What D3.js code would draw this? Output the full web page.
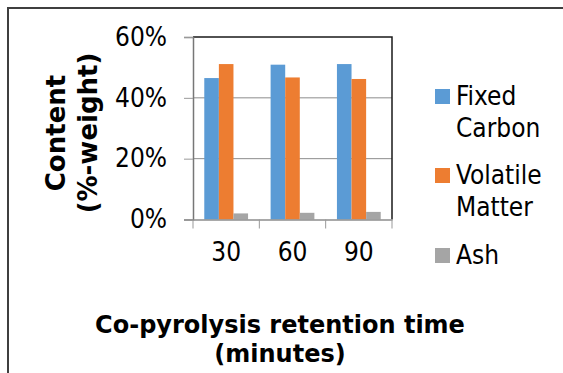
<!DOCTYPE html>
<html>
<head>
<meta charset="utf-8">
<script src="https://cdn.jsdelivr.net/npm/d3@7.9.0/dist/d3.min.js"></script>
<style>
  html, body { margin: 0; padding: 0; background: #fff; }
  svg { display: block; }
  .tick-label, .legend-label { font-family: "DejaVu Sans Condensed", "DejaVu Sans", sans-serif; font-stretch: condensed; font-size: 26px; fill: #000; }
  .axis-title { font-family: "DejaVu Sans", sans-serif; font-weight: bold; font-size: 24px; fill: #000; }
  .y-title { font-size: 26px; }
</style>
</head>
<body>
<div id="chart"></div>
<script>
const categories = ['30', '60', '90'];
const seriesNames = ['Fixed Carbon', 'Volatile Matter', 'Ash'];
const legendLines = [['Fixed', 'Carbon'], ['Volatile', 'Matter'], ['Ash']];
const fixedCarbon = [0.465, 0.509, 0.511];
const volatileMatter = [0.511, 0.467, 0.462];
const ash = [0.020, 0.022, 0.025];
const yTicks = [0, 0.2, 0.4, 0.6];
const colors = ['#5B9BD5', '#ED7D31', '#A5A5A5'];

const width = 563;
const height = 373;
const plot = { left: 193, right: 392, top: 37, bottom: 219.5 };

const svg = d3.select('#chart')
    .append('svg')
    .attr('width', width)
    .attr('height', height);

// Outer frame (runs off the right and bottom edges)
svg.append('rect')
    .attr('x', 8).attr('y', 8)
    .attr('width', width + 20).attr('height', height + 20)
    .attr('fill', 'none')
    .attr('stroke', '#3f3f3f')
    .attr('stroke-width', 2);

const values = [fixedCarbon, volatileMatter, ash];
const data = categories.map((c, i) => ({
    category: c,
    values: seriesNames.map((s, j) => ({ series: j, value: values[j][i] }))
}));

const xScale = d3.scaleBand()
    .domain(categories)
    .range([plot.left, plot.right])
    .paddingInner(0.34)
    .paddingOuter(0.17);

const xInner = d3.scaleBand()
    .domain(d3.range(seriesNames.length))
    .range([0, xScale.bandwidth()]);

const yScale = d3.scaleLinear()
    .domain([0, 0.6])
    .range([plot.bottom, plot.top]);

// Gridlines
svg.append('g')
    .selectAll('line')
    .data(yTicks.filter(d => d > 0 && d < 0.6))
    .join('line')
    .attr('x1', plot.left).attr('x2', plot.right)
    .attr('y1', d => yScale(d)).attr('y2', d => yScale(d))
    .attr('stroke', '#8c8c8c')
    .attr('stroke-width', 1);

// Bars
const groups = svg.append('g')
    .selectAll('g')
    .data(data)
    .join('g')
    .attr('transform', d => `translate(${xScale(d.category)},0)`);

groups.selectAll('rect')
    .data(d => d.values)
    .join('rect')
    .attr('x', d => xInner(d.series))
    .attr('y', d => yScale(d.value))
    .attr('width', xInner.bandwidth())
    .attr('height', d => yScale(0) - yScale(d.value))
    .attr('fill', d => colors[d.series]);

// Top and right border of plot area
svg.append('path')
    .attr('d', `M${plot.left},${plot.top}H${plot.right}V${plot.bottom}`)
    .attr('fill', 'none')
    .attr('stroke', '#1a1a1a')
    .attr('stroke-width', 1.5);

// Y axis
const yAxis = svg.append('g')
    .attr('transform', `translate(${plot.left},0)`)
    .call(d3.axisLeft(yScale).tickValues(yTicks).tickFormat(d3.format('.0%')).tickSize(9).tickPadding(17));
yAxis.select('.domain').attr('stroke', '#777').attr('stroke-width', 1.5);
yAxis.selectAll('.tick line').attr('stroke', '#999');
yAxis.selectAll('.tick text').attr('class', 'tick-label').attr('font-size', null).attr('font-family', null);

// X axis
const xAxis = svg.append('g')
    .attr('transform', `translate(0,${plot.bottom})`)
    .call(d3.axisBottom(xScale).tickSize(0).tickPadding(23));
xAxis.select('.domain').attr('stroke', '#8c8c8c').attr('stroke-width', 1.5);
xAxis.selectAll('.tick text').attr('class', 'tick-label').attr('font-size', null).attr('font-family', null);

// Category separators below the axis
const bounds = categories.map(c => xScale(c) - xScale.step() * xScale.paddingInner() / 2);
bounds.push(plot.right);
bounds[0] = plot.left;
svg.append('g')
    .selectAll('line')
    .data(bounds)
    .join('line')
    .attr('x1', d => d).attr('x2', d => d)
    .attr('y1', plot.bottom).attr('y2', plot.bottom + 9)
    .attr('stroke', '#999');

// Y title
const yTitle = svg.append('text')
    .attr('class', 'axis-title y-title')
    .attr('text-anchor', 'middle')
    .attr('transform', 'translate(65,133) rotate(-90)');
yTitle.append('tspan').attr('x', 0).attr('y', 0).text('Content');
yTitle.append('tspan').attr('x', 0).attr('y', 32).text('(%-weight)');

// X title
const xTitle = svg.append('text')
    .attr('class', 'axis-title')
    .attr('text-anchor', 'middle');
xTitle.append('tspan').attr('x', 280).attr('y', 333).text('Co-pyrolysis retention time');
xTitle.append('tspan').attr('x', 280).attr('y', 362).text('(minutes)');

// Legend
const legendTop = [89, 168, 248];
const legend = svg.append('g')
    .selectAll('g')
    .data(seriesNames)
    .join('g')
    .attr('transform', (d, i) => `translate(435,${legendTop[i]})`);

legend.append('rect')
    .attr('width', 15).attr('height', 15)
    .attr('fill', (d, i) => colors[i]);

legend.append('text')
    .attr('class', 'legend-label')
    .selectAll('tspan')
    .data((d, i) => legendLines[i])
    .join('tspan')
    .attr('x', 21)
    .attr('y', (d, j) => 16 + j * 32)
    .text(d => d);
</script>
</body>
</html>
